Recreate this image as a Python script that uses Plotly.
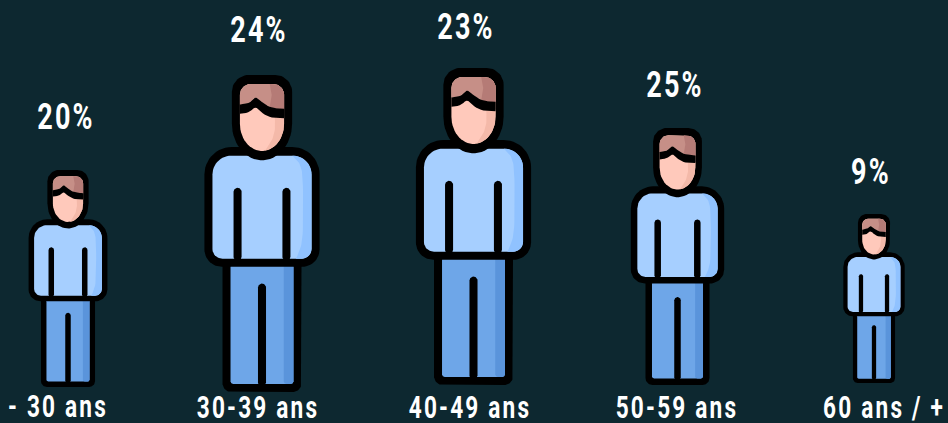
import numpy as np
import plotly.graph_objects as go

# --- data -------------------------------------------------------------
categories = ["- 30 ans", "30-39 ans", "40-49 ans", "50-59 ans", "60 ans / +"]
percentages = [20, 24, 23, 25, 9]

# --- layout of the pictogram ------------------------------------------
person_center = [68, 262, 473.5, 677.5, 874]
person_top = [170, 75, 68, 128, 214]
person_height = [217, 317, 317, 257, 169]
pct_x = [66, 259, 466, 675, 871]
pct_y = [118, 31, 28, 86, 173]
cat_x = [58, 258, 470, 677, 884]
cat_y = [409, 410, 410, 410, 410]

BG = "#0D2830"
BLACK = "#000000"
SHIRT, SHIRT_D = "#A6CFFF", "#90C2FF"
PANTS, PANTS_D = "#6EA6E8", "#5A94DB"
FACE, FACE_D = "#FFC9BB", "#F4B9A9"
HAIR, HAIR_D = "#C68F87", "#B57B76"


# --- glyph geometry, in a template space (centre x=217, y 45..992) -----
def arc(cx, cy, rx, ry, a0, a1, n=14):
    t = np.radians(np.linspace(a0, a1, n))
    return list(zip(cx + rx * np.cos(t), cy + ry * np.sin(t)))


def rrect(x0, y0, x1, y1, rt, rb=None):
    rb = rt if rb is None else rb
    return (arc(x0 + rt, y0 + rt, rt, rt, 180, 270) + arc(x1 - rt, y0 + rt, rt, rt, 270, 360)
            + arc(x1 - rb, y1 - rb, rb, rb, 0, 90) + arc(x0 + rb, y1 - rb, rb, rb, 90, 180))


def head(x0, y0, x1, y1, r, ysplit):
    cx = (x0 + x1) / 2
    return (arc(x0 + r, y0 + r, r, r, 180, 270) + arc(x1 - r, y0 + r, r, r, 270, 360)
            + arc(cx, ysplit, (x1 - x0) / 2, y1 - ysplit, 0, 180, 30))


def smooth(pts, k=2):
    p = np.array(pts, float)
    for _ in range(k):
        q = p[:-1] * .75 + p[1:] * .25
        r = p[:-1] * .25 + p[1:] * .75
        mid = np.empty((2 * len(q), 2))
        mid[0::2], mid[1::2] = q, r
        p = np.vstack([p[:1], mid, p[-1:]])
    return [tuple(v) for v in p]


H_X0, H_Y0, H_X1, H_Y1, H_R, H_S = 151, 72, 283, 272, 32, 190
inner_head = head(H_X0, H_Y0, H_X1, H_Y1, H_R, H_S)
head_cx = (H_X0 + H_X1) / 2


def head_half_width(y):
    if y >= H_S:
        return (H_X1 - H_X0) / 2 * np.sqrt(max(0, 1 - ((y - H_S) / (H_Y1 - H_S)) ** 2))
    return (H_X1 - H_X0) / 2


band_up = smooth([(151, 133), (180, 129), (198, 108), (218, 128), (245, 143), (283, 146)])
band_lo = smooth([(151, 161), (180, 157), (198, 138), (222, 163), (250, 174), (283, 174)])

hair_shape = arc(H_X0 + H_R, H_Y0 + H_R, H_R, H_R, 180, 270) + arc(H_X1 - H_R, H_Y0 + H_R, H_R, H_R, 270, 360) + band_up[::-1]
hair_shade = [(240, 72), (251, 72)] + arc(H_X1 - H_R, H_Y0 + H_R, H_R, H_R, 270, 360) + [(283, 148), (240, 142), (246, 105)]
face_curve = smooth([(255, 170), (257, 205), (248, 240), (226, 271)], 3)
face_edge = [(head_cx + head_half_width(y), y) for y in np.linspace(170, 271.5, 24)]
face_shade = face_edge + face_curve[::-1]
shirt_shade = smooth([(308, 286), (332, 310), (340, 355), (340, 530), (330, 570), (318, 594)], 3) + \
    arc(335, 564, 30, 30, 90, 0) + arc(309, 342, 56, 56, 0, -90)

LAYERS = [
    (rrect(99, 590, 335, 992, 26), BLACK),
    (rrect(123, 610, 311, 968, 8), PANTS),
    (rrect(282, 610, 311, 968, 8), PANTS_D),
    (rrect(205, 668, 229, 975, 12), BLACK),
    (rrect(45, 260, 389, 618, 82, 52), BLACK),
    (rrect(69, 286, 365, 594, 56, 30), SHIRT),
    (shirt_shade, SHIRT_D),
    (rrect(132, 382, 156, 600, 12), BLACK),
    (rrect(278, 382, 302, 600, 12), BLACK),
    (head(127, 45, 307, 300, 50, 190), BLACK),
    (inner_head, FACE),
    (face_shade, FACE_D),
    (hair_shape, HAIR),
    (hair_shade, HAIR_D),
    (band_up + band_lo[::-1], BLACK),
]

fig = go.Figure()
GLYPH_H = 947.0
for cx, top, h in zip(person_center, person_top, person_height):
    s = h / GLYPH_H
    for pts, col in LAYERS:
        a = np.array(pts)
        fig.add_trace(go.Scatter(
            x=cx + (a[:, 0] - 217) * s, y=top + (a[:, 1] - 45) * s,
            mode="lines", fill="toself", fillcolor=col,
            line=dict(width=0, color=col), hoverinfo="skip", showlegend=False))

FONT = "Roboto, sans-serif"
fig.add_trace(go.Scatter(
    x=pct_x, y=[v + 2 for v in pct_y], mode="text", text=[f"<b>{p}%</b>" for p in percentages],
    textposition="middle center", textfont=dict(family=FONT, size=37, color="#FFFFFF"),
    cliponaxis=False, hoverinfo="skip", showlegend=False))
fig.add_trace(go.Scatter(
    x=cat_x, y=cat_y, mode="text", text=[f"<b>{c}</b>" for c in categories],
    textposition="middle center", textfont=dict(family=FONT, size=31, color="#FFFFFF"),
    cliponaxis=False, hoverinfo="skip", showlegend=False))

fig.update_layout(
    width=948, height=423, margin=dict(l=0, r=0, t=0, b=0),
    paper_bgcolor=BG, plot_bgcolor=BG, showlegend=False,
    xaxis=dict(range=[0, 948], visible=False, fixedrange=True),
    yaxis=dict(range=[423, 0], visible=False, fixedrange=True),
)

# Page margin off; narrow the Roboto labels to the condensed look of the reference.
POST = """
document.documentElement.style.margin='0';
document.body.style.margin='0';
document.body.style.overflow='hidden';
document.body.style.background='%s';
var gd=document.getElementById('{plot_id}');
function condense(){
  gd.querySelectorAll('.textpoint text').forEach(function(t){
    var x=parseFloat(t.getAttribute('x'))||0;
    t.style.letterSpacing='3px';
    t.setAttribute('transform','translate('+x+',0) scale(0.73,1) translate('+(-x)+',0)');
  });
}
condense();
if(gd.on){gd.on('plotly_afterplot',condense);}
""" % BG
fig.write_html("out.html", config={"displayModeBar": False}, post_script=POST)
